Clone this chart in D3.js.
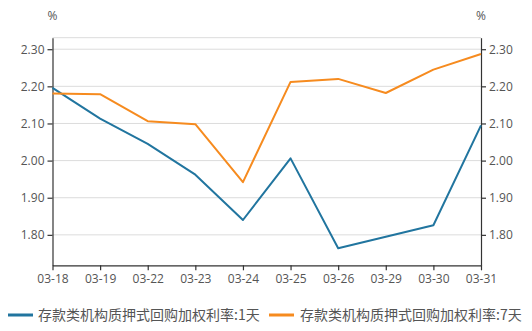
<!DOCTYPE html>
<html>
<head>
<meta charset="utf-8">
<script src="https://cdn.jsdelivr.net/npm/d3@7/dist/d3.min.js"></script>
<style>
  html, body { margin: 0; padding: 0; background: #fff; }
  svg { display: block; font-family: "Noto Sans CJK SC", "Microsoft YaHei", sans-serif; }
</style>
</head>
<body>
<svg id="chart" width="532" height="331"></svg>
<script>
// Dates on the category axis
const dates = ["03-18", "03-19", "03-22", "03-23", "03-24", "03-25", "03-26", "03-29", "03-30", "03-31"];
// Weighted pledged repo rates of depository institutions (%)
const rate1d = [2.196, 2.113, 2.045, 1.962, 1.840, 2.006, 1.764, 1.795, 1.826, 2.095];
const rate7d = [2.181, 2.179, 2.106, 2.098, 1.942, 2.212, 2.220, 2.182, 2.245, 2.287];
const seriesNames = ["存款类机构质押式回购加权利率:1天", "存款类机构质押式回购加权利率:7天"];
const yTicks = [1.80, 1.90, 2.00, 2.10, 2.20, 2.30];
const colors = ["#21759f", "#f68b1f"];

const svg = d3.select("#chart");
const plotL = 52.5, plotR = 481, plotT = 37.7, plotB = 265.3;

const x = d3.scalePoint().domain(dates).range([plotL, plotR]);
const y = d3.scaleLinear().domain([1.718, 2.331]).range([plotB, plotT]);

// Horizontal grid lines
svg.append("g")
  .selectAll("line")
  .data(yTicks.concat([y.domain()[1]]))
  .join("line")
  .attr("x1", plotL).attr("x2", plotR)
  .attr("y1", d => y(d)).attr("y2", d => y(d))
  .attr("stroke", "#dcdcdc").attr("stroke-width", 1);

function styleAxis(g) {
  g.select(".domain").attr("stroke", "#333").attr("stroke-width", 1.2);
  g.selectAll(".tick line").attr("stroke", "#333").attr("stroke-width", 1.2);
  g.selectAll(".tick text").attr("fill", "#555").style("font-size", "12px")
    .style("font-family", "'Open Sans', 'Noto Sans', sans-serif");
}

const fmt = d3.format(".2f");

svg.append("g")
  .attr("transform", `translate(${plotL},0)`)
  .call(d3.axisLeft(y).tickValues(yTicks).tickFormat(fmt).tickSize(5).tickSizeOuter(0).tickPadding(3))
  .call(styleAxis);

svg.append("g")
  .attr("transform", `translate(${plotR},0)`)
  .call(d3.axisRight(y).tickValues(yTicks).tickFormat(fmt).tickSize(5).tickSizeOuter(0).tickPadding(3))
  .call(styleAxis);

svg.append("g")
  .attr("transform", `translate(0,${plotB})`)
  .call(d3.axisBottom(x).tickSize(5).tickSizeOuter(0).tickPadding(4))
  .call(styleAxis);

// Unit labels
[plotL, plotR].forEach(px => {
  svg.append("text")
    .attr("x", px).attr("y", 20)
    .attr("text-anchor", "middle")
    .attr("fill", "#555")
    .style("font-size", "12px")
    .style("font-family", "'Open Sans', 'Noto Sans', sans-serif")
    .text("%");
});

// Series lines
const line = d3.line().x((d, i) => x(dates[i])).y(d => y(d));
[rate1d, rate7d].forEach((vals, k) => {
  svg.append("path")
    .datum(vals)
    .attr("fill", "none")
    .attr("stroke", colors[k])
    .attr("stroke-width", 2)
    .attr("stroke-linejoin", "round")
    .attr("d", line);
});

// Legend
const legendPos = [{ lx: 8, tx: 38 }, { lx: 269, tx: 300 }];
const legendY = 315;
seriesNames.forEach((name, k) => {
  const p = legendPos[k];
  svg.append("line")
    .attr("x1", p.lx).attr("x2", p.lx + 25)
    .attr("y1", legendY).attr("y2", legendY)
    .attr("stroke", colors[k]).attr("stroke-width", 3);
  svg.append("text")
    .attr("x", p.tx).attr("y", legendY)
    .attr("dy", "0.35em")
    .attr("fill", "#555")
    .style("font-size", "14px")
    .text(name);
});
</script>
</body>
</html>
